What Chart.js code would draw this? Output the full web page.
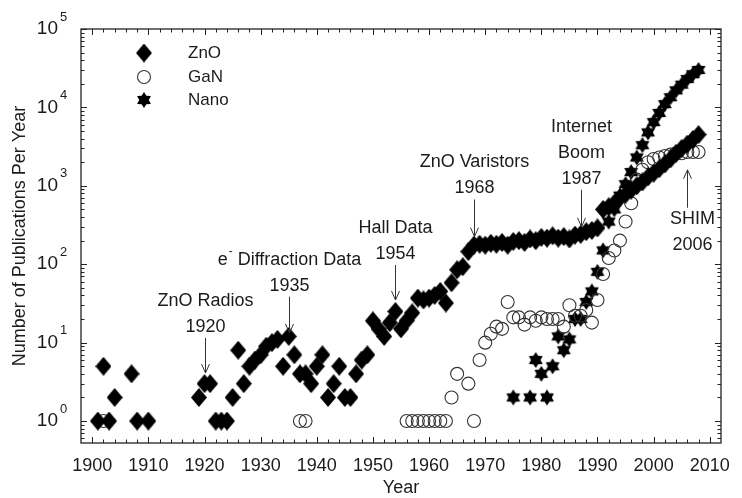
<!DOCTYPE html>
<html>
<head>
<meta charset="utf-8">
<script src="https://cdn.jsdelivr.net/npm/chart.js@4.4.0/dist/chart.umd.min.js"></script>
<style>
  html, body { margin: 0; padding: 0; background: #fff; }
  #wrap { width: 742px; height: 498px; }
</style>
</head>
<body>
<div id="wrap"><canvas id="pubChart" width="742" height="498"></canvas></div>
<script>
const FONT = "'Liberation Sans', Arial, Helvetica, sans-serif";
const INK = '#1b1b1b';

// ---- data ----
const znoYears = [1901, 1902, 1903, 1904, 1907, 1908, 1910,
  1919, 1920, 1921, 1922, 1923, 1924, 1925, 1926, 1927, 1928, 1929, 1930, 1931, 1932, 1933, 1934, 1935,
  1936, 1937, 1938, 1939, 1940, 1941, 1942, 1943, 1944, 1945, 1946, 1947, 1948, 1949,
  1950, 1951, 1952, 1953, 1954, 1955, 1956, 1957, 1958, 1959, 1960, 1961, 1962, 1963, 1964, 1965, 1966, 1967,
  1968, 1969, 1970, 1971, 1972, 1973, 1974, 1975, 1976, 1977, 1978, 1979, 1980, 1981, 1982, 1983, 1984,
  1985, 1986, 1987, 1988, 1989, 1990, 1991, 1992, 1993, 1994, 1995, 1996, 1997, 1998, 1999, 2000,
  2001, 2002, 2003, 2004, 2005, 2006, 2007, 2008];
const znoValues = [1, 5, 1, 2, 4, 1, 1,
  2, 3, 3, 1, 1, 1, 2, 8, 3, 5, 6, 7, 9, 10, 11, 5, 12,
  7, 4, 4, 3, 5, 7, 2, 3, 5, 2, 2, 4, 6, 7,
  19, 15, 12, 18, 25, 15, 19, 24, 37, 35, 37, 40, 45, 32, 58, 85, 93, 145,
  175, 180, 175, 185, 180, 190, 175, 195, 200, 190, 210, 200, 220, 215, 230, 215, 225,
  210, 235, 240, 260, 270, 290, 500, 540, 600, 700, 780, 880, 1000, 1120, 1300, 1450,
  1650, 1900, 2200, 2600, 3000, 3400, 3900, 4500];

const ganYears = [1902, 1937, 1938, 1956, 1957, 1958, 1959, 1960, 1961, 1962, 1963, 1964, 1965, 1967,
  1968, 1969, 1970, 1971, 1972, 1973, 1974, 1975, 1976, 1977, 1978, 1979, 1980, 1981, 1982, 1983,
  1984, 1985, 1986, 1987, 1988, 1989, 1990, 1991, 1992, 1993, 1994, 1995, 1996, 1997, 1998, 1999,
  2000, 2001, 2002, 2003, 2004, 2005, 2006, 2007, 2008];
const ganValues = [1, 1, 1, 1, 1, 1, 1, 1, 1, 1, 1, 2, 4, 3,
  1, 6, 10, 13, 16, 15, 33, 21, 21, 17, 21, 19, 21, 20, 20, 20,
  16, 30, 22, 22, 26, 18, 35, 75, 120, 150, 200, 350, 600, 1200, 1600, 2000,
  2200, 2300, 2400, 2500, 2600, 2600, 2700, 2700, 2700];

const nanoYears = [1975, 1978, 1979, 1980, 1981, 1982, 1983, 1984, 1985, 1986, 1987, 1988, 1989, 1990,
  1991, 1992, 1993, 1994, 1995, 1996, 1997, 1998, 1999, 2000, 2001, 2002, 2003, 2004, 2005, 2006, 2007, 2008];
const nanoValues = [2, 2, 6, 4, 2, 5, 12, 8, 11, 20, 20, 33, 45, 80,
  150, 350, 500, 750, 1050, 1500, 2300, 3300, 4800, 6500, 8500, 11000, 13500, 16500, 19500, 23000, 26500, 30000];

const seriesNames = ['ZnO', 'GaN', 'Nano'];
const xTickYears = [1900, 1910, 1920, 1930, 1940, 1950, 1960, 1970, 1980, 1990, 2000, 2010];
const yDecades = [0, 1, 2, 3, 4, 5];

// annotations: arrow year, arrow tip value, arrow tail value, text lines (nearest the tail first)
const annoYears = [1920, 1935, 1954, 1968, 1987, 2006];
const annoTip = [4.1, 13.3, 35, 225, 300, 1600];
const annoTail = [11.5, 38.5, 98, 670, 890, 525];
const annoLines = [
  ['1920', 'ZnO Radios'],
  ['1935', 'e^- Diffraction Data'],
  ['1954', 'Hall Data'],
  ['1968', 'ZnO Varistors'],
  ['1987', 'Boom', 'Internet'],
  ['SHIM', '2006']
];

// ---- marker sprites ----
function makeDiamond(w, h) {
  const c = document.createElement('canvas');
  c.width = w; c.height = h;
  const g = c.getContext('2d');
  g.fillStyle = '#000';
  g.beginPath();
  g.moveTo(w / 2, 0); g.lineTo(w, h / 2); g.lineTo(w / 2, h); g.lineTo(0, h / 2);
  g.closePath(); g.fill();
  return c;
}
function makeStar(r) {
  const s = Math.ceil(r * 2 + 2);
  const c = document.createElement('canvas');
  c.width = s; c.height = s;
  const g = c.getContext('2d');
  g.fillStyle = '#000';
  g.beginPath();
  for (let i = 0; i < 12; i++) {
    const a = -Math.PI / 2 + i * Math.PI / 6;
    const rr = i % 2 ? r * 0.6 : r;
    g.lineTo(s / 2 + rr * Math.cos(a), s / 2 + rr * Math.sin(a));
  }
  g.closePath(); g.fill();
  return c;
}
const diamondImg = makeDiamond(16, 19);
const starImg = makeStar(8);

const toPts = (xs, ys) => xs.map((x, i) => ({ x, y: ys[i] }));

// ---- frame, ticks, y labels, legend, annotations ----
const decorPlugin = {
  id: 'decor',
  afterDraw(chart) {
    const { ctx, chartArea: a, scales: { x, y } } = chart;
    ctx.save();
    ctx.strokeStyle = '#222';
    ctx.lineWidth = 1.3;
    ctx.strokeRect(a.left, a.top, a.right - a.left, a.bottom - a.top);

    ctx.lineWidth = 1;
    ctx.beginPath();
    for (let yr = 1900; yr <= 2010; yr += 2) {
      const px = Math.round(x.getPixelForValue(yr)) + 0.5;
      const len = yr % 10 === 0 ? 6 : 3.5;
      ctx.moveTo(px, a.bottom); ctx.lineTo(px, a.bottom - len);
      ctx.moveTo(px, a.top); ctx.lineTo(px, a.top + len);
    }
    for (let e = -1; e <= 5; e++) {
      for (let m = 1; m <= 9; m++) {
        const v = m * Math.pow(10, e);
        if (v < y.min || v > y.max) continue;
        const py = Math.round(y.getPixelForValue(v)) + 0.5;
        const len = m === 1 ? 6 : 3.5;
        ctx.moveTo(a.left, py); ctx.lineTo(a.left + len, py);
        ctx.moveTo(a.right, py); ctx.lineTo(a.right - len, py);
      }
    }
    ctx.stroke();

    // y tick labels 10^n
    ctx.fillStyle = INK;
    ctx.textBaseline = 'middle';
    yDecades.forEach(e => {
      const py = y.getPixelForValue(Math.pow(10, e));
      ctx.font = '19px ' + FONT;
      ctx.textAlign = 'right';
      ctx.fillText('10', 58, py);
      ctx.font = '13px ' + FONT;
      ctx.textAlign = 'left';
      ctx.fillText(String(e), 60, py - 12);
    });

    // legend
    const legY = [53, 77, 100];
    legY.forEach((ly, i) => {
      if (i === 0) ctx.drawImage(diamondImg, 144 - diamondImg.width / 2, ly - diamondImg.height / 2);
      if (i === 1) {
        ctx.beginPath(); ctx.arc(144, ly, 6.5, 0, Math.PI * 2);
        ctx.strokeStyle = '#333'; ctx.lineWidth = 1.1; ctx.stroke();
      }
      if (i === 2) ctx.drawImage(starImg, 144 - starImg.width / 2, ly - starImg.height / 2);
      ctx.font = '17px ' + FONT;
      ctx.textAlign = 'left';
      ctx.fillStyle = INK;
      ctx.fillText(seriesNames[i], 188, ly);
    });

    // annotations
    ctx.strokeStyle = '#333';
    ctx.lineWidth = 1;
    annoYears.forEach((yr, i) => {
      const px = Math.round(x.getPixelForValue(yr)) + 0.5;
      const tip = y.getPixelForValue(annoTip[i]);
      const tail = y.getPixelForValue(annoTail[i]);
      const dir = tip > tail ? 1 : -1;
      ctx.beginPath();
      ctx.moveTo(px, tail); ctx.lineTo(px, tip);
      ctx.moveTo(px - 4, tip - dir * 9); ctx.lineTo(px, tip); ctx.lineTo(px + 4, tip - dir * 9);
      ctx.stroke();
      const cx = dir > 0 ? px : px + 5;
      annoLines[i].forEach((txt, k) => {
        const ty = dir > 0 ? tail - 11 - k * 26 : tail + 11 + k * 26;
        drawLabel(ctx, txt, cx, ty);
      });
    });
    ctx.restore();
  }
};

function drawLabel(ctx, txt, cx, ty) {
  ctx.fillStyle = INK;
  ctx.textBaseline = 'middle';
  ctx.textAlign = 'left';
  const parts = txt.split('^-');
  ctx.font = '18px ' + FONT;
  if (parts.length === 1) {
    ctx.textAlign = 'center';
    ctx.fillText(txt, cx, ty);
    return;
  }
  const w1 = ctx.measureText(parts[0]).width;
  const w3 = ctx.measureText(parts[1]).width;
  ctx.font = '12px ' + FONT;
  const w2 = ctx.measureText('-').width + 1;
  let sx = cx - (w1 + w2 + w3) / 2;
  ctx.font = '18px ' + FONT;
  ctx.fillText(parts[0], sx, ty);
  ctx.font = '12px ' + FONT;
  ctx.fillText('-', sx + w1 + 1, ty - 8);
  ctx.font = '18px ' + FONT;
  ctx.fillText(parts[1], sx + w1 + w2, ty);
}

new Chart(document.getElementById('pubChart'), {
  type: 'scatter',
  data: {
    datasets: [
      {
        label: seriesNames[0],
        data: toPts(znoYears, znoValues),
        pointStyle: diamondImg,
        pointRadius: 7
      },
      {
        label: seriesNames[1],
        data: toPts(ganYears, ganValues),
        pointStyle: 'circle',
        pointRadius: 6.5,
        borderColor: '#333',
        borderWidth: 1.1,
        backgroundColor: 'rgba(0,0,0,0)'
      },
      {
        label: seriesNames[2],
        data: toPts(nanoYears, nanoValues),
        pointStyle: starImg,
        pointRadius: 7
      }
    ]
  },
  options: {
    responsive: false,
    animation: false,
    events: [],
    layout: { padding: { top: 29, right: 12, left: 0, bottom: 0 } },
    plugins: { legend: { display: false }, tooltip: { enabled: false } },
    scales: {
      x: {
        type: 'linear',
        min: 1898,
        max: 2012,
        grid: { display: false, drawTicks: false },
        border: { display: false },
        afterBuildTicks: s => { s.ticks = xTickYears.map(v => ({ value: v })); },
        afterFit: s => { s.height = 55; },
        ticks: {
          autoSkip: false,
          maxRotation: 0,
          padding: 12,
          color: INK,
          font: { family: FONT, size: 18 },
          callback: v => String(v)
        },
        title: {
          display: true,
          text: 'Year',
          color: INK,
          font: { family: FONT, size: 18 },
          padding: { top: 0, bottom: -1 }
        }
      },
      y: {
        type: 'logarithmic',
        min: 0.525,
        max: 100000,
        grid: { display: false, drawTicks: false },
        border: { display: false },
        ticks: { display: false },
        afterFit: s => { s.width = 81; },
        title: {
          display: true,
          text: 'Number of Publications Per Year',
          color: INK,
          font: { family: FONT, size: 18 },
          padding: { top: 9, bottom: 0 }
        }
      }
    }
  },
  plugins: [decorPlugin]
});
</script>
</body>
</html>
